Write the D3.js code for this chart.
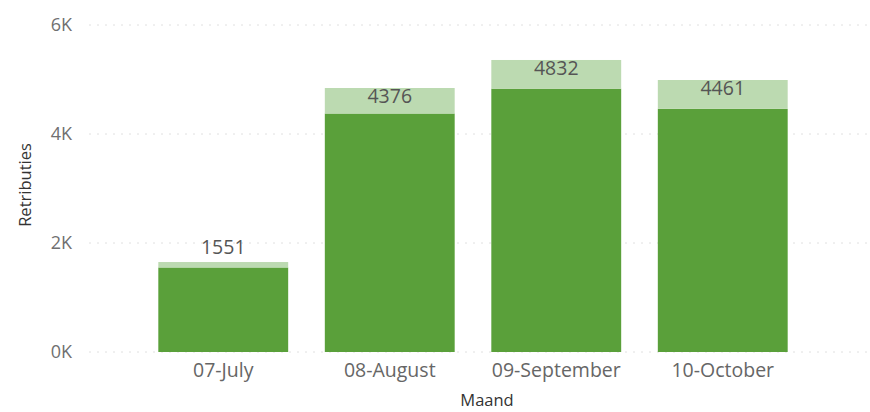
<!DOCTYPE html>
<html>
<head>
<meta charset="utf-8">
<script src="https://cdn.jsdelivr.net/npm/d3@7"></script>
<style>
  body { margin: 0; background: #fff; }
  svg { display: block; font-family: "Open Sans", "Noto Sans", sans-serif; }
</style>
</head>
<body>
<div id="chart"></div>
<script>
// values
const months = ["07-July", "08-August", "09-September", "10-October"]
const retributies = [1551, 4376, 4832, 4461]
const aanvullend = [100, 468, 526, 530]
const yTicks = [0, 2000, 4000, 6000]

const width = 870, height = 412

const svg = d3.select("#chart").append("svg")
  .attr("width", width)
  .attr("height", height)

const x = d3.scaleBand()
  .domain(months)
  .range([140, 806])
  .paddingInner(0.22)
  .paddingOuter(0.11)

const y = d3.scaleLinear()
  .domain([0, 6000])
  .range([352, 25])

// dotted gridlines
svg.append("g")
  .selectAll("line")
  .data(yTicks)
  .enter().append("line")
    .attr("x1", 89)
    .attr("x2", 870)
    .attr("y1", d => y(d))
    .attr("y2", d => y(d))
    .attr("stroke", "#e0e0e0")
    .attr("stroke-width", 1)
    .attr("stroke-dasharray", "2,6")

// y axis labels (no domain line)
const yAxis = svg.append("g")
  .attr("transform", "translate(72,0)")
  .call(d3.axisLeft(y).tickValues(yTicks).tickSize(0).tickPadding(0)
    .tickFormat(d => (d / 1000) + "K"))
yAxis.select(".domain").remove()
yAxis.selectAll("text")
  .attr("fill", "#707070")
  .style("font-size", "18px")
  .style("font-family", "'Open Sans', sans-serif")

// x axis labels
const xAxis = svg.append("g")
  .attr("transform", "translate(0,363)")
  .call(d3.axisBottom(x).tickSize(0).tickPadding(0))
xAxis.select(".domain").remove()
xAxis.selectAll("text")
  .attr("fill", "#666")
  .attr("dy", "0.71em")
  .style("font-size", "19.5px")
  .style("font-family", "'Open Sans', sans-serif")

// stacked bars
const rows = months.map((m, i) => ({ month: m, base: retributies[i], extra: aanvullend[i] }))

svg.append("g")
  .selectAll("rect.base")
  .data(rows)
  .enter().append("rect")
    .attr("class", "base")
    .attr("x", d => x(d.month))
    .attr("width", x.bandwidth())
    .attr("y", d => y(d.base))
    .attr("height", d => y(0) - y(d.base))
    .attr("fill", "#5aa03a")

svg.append("g")
  .selectAll("rect.extra")
  .data(rows)
  .enter().append("rect")
    .attr("class", "extra")
    .attr("x", d => x(d.month))
    .attr("width", x.bandwidth())
    .attr("y", d => y(d.base + d.extra))
    .attr("height", d => y(d.base) - y(d.base + d.extra))
    .attr("fill", "#bcdab1")

// data labels
svg.append("g")
  .selectAll("text")
  .data(rows)
  .enter().append("text")
    .attr("x", d => x(d.month) + x.bandwidth() / 2)
    .attr("y", function (d) {
      let top = y(d.base + d.extra)
      let room = y(d.base) - top
      return room < 20 ? top - 8 : top + 15
    })
    .attr("text-anchor", "middle")
    .attr("fill", "#555")
    .style("font-size", "19.5px")
    .text(d => d.base)

// axis titles
svg.append("text")
  .attr("x", 487)
  .attr("y", 406)
  .attr("text-anchor", "middle")
  .attr("fill", "#333")
  .style("font-size", "16.5px")
  .text("Maand")

svg.append("text")
  .attr("transform", "translate(31,185) rotate(-90)")
  .attr("text-anchor", "middle")
  .attr("fill", "#333")
  .style("font-size", "16.5px")
  .text("Retributies")
</script>
</body>
</html>
